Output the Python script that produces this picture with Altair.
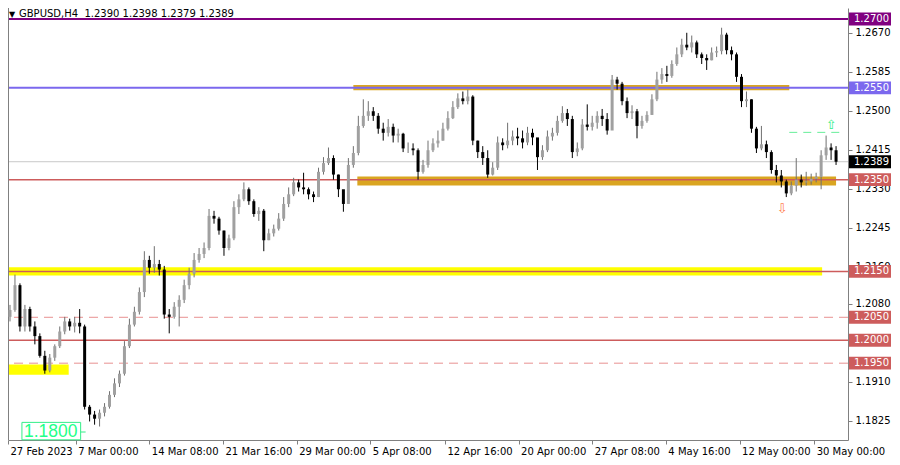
import altair as alt
import pandas as pd

# ---------------- data ----------------
open_first = 1.2051
close = [1.2066, 1.2120, 1.2030, 1.2068, 1.2030, 1.2009, 1.1966, 1.1934, 1.1962, 1.1987,
         1.2019, 1.2041, 1.2030, 1.2038, 1.2030, 1.1855, 1.1838, 1.1829, 1.1842, 1.1855,
         1.1881, 1.1906, 1.1927, 1.1987, 1.2034, 1.2062, 1.2105, 1.2175, 1.2158, 1.2166,
         1.2154, 1.2056, 1.2051, 1.2073, 1.2088, 1.2120, 1.2145, 1.2175, 1.2188, 1.2201,
         1.2271, 1.2265, 1.2239, 1.2201, 1.2222, 1.2290, 1.2307, 1.2329, 1.2303, 1.2275,
         1.2282, 1.2218, 1.2233, 1.2243, 1.2265, 1.2297, 1.2318, 1.2344, 1.2333, 1.2329,
         1.2318, 1.2312, 1.2367, 1.2386, 1.2397, 1.2361, 1.2329, 1.2297, 1.2382, 1.2408,
         1.2467, 1.2489, 1.2499, 1.2489, 1.2461, 1.2452, 1.2465, 1.2446, 1.2450, 1.2418,
         1.2418, 1.2414, 1.2367, 1.2382, 1.2414, 1.2429, 1.2435, 1.2461, 1.2484, 1.2508,
         1.2527, 1.2521, 1.2531, 1.2435, 1.2410, 1.2397, 1.2361, 1.2376, 1.2431, 1.2425,
         1.2435, 1.2444, 1.2440, 1.2431, 1.2452, 1.2442, 1.2399, 1.2414, 1.2444, 1.2452,
         1.2478, 1.2495, 1.2482, 1.2410, 1.2418, 1.2470, 1.2465, 1.2474, 1.2489, 1.2482,
         1.2457, 1.2568, 1.2559, 1.2521, 1.2495, 1.2499, 1.2467, 1.2478, 1.2491, 1.2525,
         1.2568, 1.2580, 1.2576, 1.2602, 1.2623, 1.2644, 1.2638, 1.2649, 1.2623, 1.2615,
         1.2610, 1.2627, 1.2630, 1.2666, 1.2632, 1.2623, 1.2574, 1.2521, 1.2525, 1.2461,
         1.2418, 1.2427, 1.2410, 1.2371, 1.2359, 1.2346, 1.2320, 1.2337, 1.2350, 1.2344,
         1.2346, 1.2352, 1.2356, 1.2403, 1.2420, 1.2414, 1.2389]
high = [1.2077, 1.2143, 1.2124, 1.2077, 1.2073, 1.2041, 1.2015, 1.1977, 1.1970, 1.1991,
        1.2030, 1.2051, 1.2047, 1.2051, 1.2068, 1.2034, 1.1859, 1.1846, 1.1849, 1.1863,
        1.1889, 1.1917, 1.1934, 1.1998, 1.2047, 1.2073, 1.2115, 1.2194, 1.2184, 1.2205,
        1.2175, 1.2162, 1.2068, 1.2083, 1.2098, 1.2132, 1.2158, 1.2190, 1.2201, 1.2213,
        1.2286, 1.2282, 1.2269, 1.2239, 1.2230, 1.2303, 1.2318, 1.2344, 1.2333, 1.2307,
        1.2290, 1.2286, 1.2243, 1.2252, 1.2277, 1.2312, 1.2333, 1.2354, 1.2350, 1.2365,
        1.2333, 1.2324, 1.2376, 1.2399, 1.2420, 1.2403, 1.2361, 1.2324, 1.2397, 1.2423,
        1.2489, 1.2525, 1.2521, 1.2508, 1.2495, 1.2474, 1.2482, 1.2472, 1.2461, 1.2452,
        1.2431, 1.2429, 1.2418, 1.2393, 1.2435, 1.2440, 1.2457, 1.2474, 1.2499, 1.2521,
        1.2538, 1.2542, 1.2546, 1.2534, 1.2435, 1.2423, 1.2414, 1.2388, 1.2444, 1.2440,
        1.2474, 1.2457, 1.2463, 1.2457, 1.2465, 1.2461, 1.2440, 1.2425, 1.2457, 1.2463,
        1.2489, 1.2510, 1.2504, 1.2489, 1.2431, 1.2482, 1.2514, 1.2489, 1.2499, 1.2504,
        1.2495, 1.2578, 1.2574, 1.2563, 1.2529, 1.2512, 1.2504, 1.2489, 1.2499, 1.2536,
        1.2585, 1.2593, 1.2598, 1.2610, 1.2638, 1.2657, 1.2670, 1.2664, 1.2653, 1.2627,
        1.2623, 1.2638, 1.2640, 1.2681, 1.2670, 1.2640, 1.2627, 1.2580, 1.2542, 1.2525,
        1.2465, 1.2467, 1.2435, 1.2414, 1.2382, 1.2371, 1.2350, 1.2346, 1.2397, 1.2361,
        1.2367, 1.2363, 1.2365, 1.2414, 1.2446, 1.2429, 1.2423]
low = [1.2041, 1.2062, 1.2019, 1.2019, 1.2019, 1.1991, 1.1962, 1.1927, 1.1930, 1.1955,
       1.1983, 1.2013, 1.2021, 1.2017, 1.2015, 1.1849, 1.1823, 1.1816, 1.1812, 1.1834,
       1.1851, 1.1876, 1.1898, 1.1923, 1.1983, 1.2030, 1.2056, 1.2094, 1.2145, 1.2147,
       1.2141, 1.2047, 1.2015, 1.2047, 1.2030, 1.2081, 1.2111, 1.2137, 1.2169, 1.2179,
       1.2196, 1.2254, 1.2230, 1.2184, 1.2196, 1.2218, 1.2275, 1.2303, 1.2295, 1.2269,
       1.2260, 1.2194, 1.2218, 1.2226, 1.2239, 1.2260, 1.2290, 1.2314, 1.2324, 1.2318,
       1.2307, 1.2301, 1.2312, 1.2361, 1.2382, 1.2350, 1.2312, 1.2280, 1.2297, 1.2376,
       1.2403, 1.2463, 1.2478, 1.2478, 1.2450, 1.2435, 1.2444, 1.2431, 1.2431, 1.2410,
       1.2408, 1.2403, 1.2350, 1.2363, 1.2376, 1.2410, 1.2420, 1.2435, 1.2457, 1.2482,
       1.2504, 1.2514, 1.2514, 1.2425, 1.2397, 1.2382, 1.2354, 1.2359, 1.2371, 1.2414,
       1.2418, 1.2425, 1.2425, 1.2418, 1.2425, 1.2425, 1.2371, 1.2393, 1.2410, 1.2435,
       1.2446, 1.2474, 1.2467, 1.2397, 1.2401, 1.2414, 1.2457, 1.2457, 1.2461, 1.2467,
       1.2448, 1.2461, 1.2546, 1.2512, 1.2484, 1.2482, 1.2440, 1.2461, 1.2474, 1.2491,
       1.2521, 1.2559, 1.2563, 1.2572, 1.2598, 1.2617, 1.2632, 1.2627, 1.2615, 1.2602,
       1.2589, 1.2610, 1.2617, 1.2623, 1.2623, 1.2610, 1.2563, 1.2508, 1.2508, 1.2452,
       1.2408, 1.2414, 1.2397, 1.2363, 1.2344, 1.2333, 1.2312, 1.2316, 1.2324, 1.2333,
       1.2337, 1.2339, 1.2344, 1.2329, 1.2393, 1.2393, 1.2382]

y_ticks = [1.1825, 1.1910, 1.2080, 1.2160, 1.2245, 1.2330, 1.2415, 1.2500, 1.2585, 1.2670]
x_tick_pos = [-0.4, 13.2, 28, 42.8, 57.6, 72.4, 87.4, 102.2, 117, 131.8, 146.6, 161.6]
x_tick_labels = ["27 Feb 2023", "7 Mar 00:00", "14 Mar 08:00", "21 Mar 16:00", "29 Mar 00:00",
                 "5 Apr 08:00", "12 Apr 16:00", "20 Apr 00:00", "27 Apr 08:00", "4 May 16:00",
                 "12 May 00:00", "30 May 00:00"]

solid_prices = [1.2700, 1.2550, 1.2389, 1.2350, 1.2150, 1.2000]
solid_colors = ["#800080", "#7B68EE", "#C8C8C8", "#CD5C5C", "#CD5C5C", "#CD5C5C"]
solid_widths = [2, 2, 1, 1.5, 1.5, 1.5]
dashed_prices = [1.2050, 1.1950]

box_prices = [1.2700, 1.2550, 1.2389, 1.2350, 1.2150, 1.2050, 1.2000, 1.1950]
box_colors = ["#800080", "#7B68EE", "#000000", "#CD5C5C", "#CD5C5C", "#CD5C5C", "#CD5C5C", "#CD5C5C"]

zone_x1 = [69, 69.8, -0.4, -0.4]
zone_x2 = [156.6, 166, 163.2, 11.8]
zone_lo = [1.2545, 1.2337, 1.2141, 1.1925]
zone_hi = [1.2556, 1.2357, 1.2159, 1.1947]
zone_colors = ["#DAA520", "#DAA520", "#FFFF00", "#FFFF00"]

header = "GBPUSD,H4\u00a0\u00a01.2390 1.2398 1.2379 1.2389"

# ---------------- tables ----------------
opens = [open_first] + close[:-1]
candles = pd.DataFrame({"i": list(range(len(close))), "open": opens, "close": close,
                        "high": high, "low": low})
solid = pd.DataFrame({"price": solid_prices, "color": solid_colors, "w": solid_widths})
dashed = pd.DataFrame({"price": dashed_prices})
boxes = pd.DataFrame({"price": box_prices, "color": box_colors,
                      "label": [f"{p:.4f}" for p in box_prices]})
zones = pd.DataFrame({"x1": zone_x1, "x2": zone_x2, "lo": zone_lo, "hi": zone_hi, "color": zone_colors})

W, H = 840, 432
FONT = "DejaVu Sans"
xsc = alt.Scale(domain=[-0.4, 168.4], nice=False, zero=False, padding=0)
ysc = alt.Scale(domain=[1.17826, 1.27240], nice=False, zero=False, padding=0)

label_expr = ""
for v, t in zip(x_tick_pos, x_tick_labels):
    label_expr += f"abs(datum.value - ({v})) < 0.5 ? '{t}' : "
label_expr += "''"

xax = alt.Axis(values=x_tick_pos, labelExpr=label_expr, title=None, orient="bottom",
               labelAlign="left", labelOffset=2, labelFlush=False, labelOverlap=False,
               tickSize=4, tickColor="#808080", domainColor="#808080", grid=False,
               labelFont=FONT, labelFontSize=10, labelColor="#000000", labelPadding=2)
yax = alt.Axis(values=y_ticks, format=".4f", title=None, orient="right", labelAlign="left",
               labelOverlap=False, labelFlush=False, tickSize=4, tickColor="#808080",
               domainColor="#808080", grid=False, labelFont=FONT, labelFontSize=10,
               labelColor="#000000", labelPadding=3)


def X(f):
    return alt.X(f, type="quantitative", scale=xsc, axis=xax)


def Y(f):
    return alt.Y(f, type="quantitative", scale=ysc, axis=yax)


base = alt.Chart(candles)

zone_layer = alt.Chart(zones).mark_rect().encode(
    x=X("x1"), x2="x2", y=Y("lo"), y2="hi", color=alt.Color("color:N", scale=None))

solid_layer = alt.Chart(solid).mark_rule().encode(
    y=Y("price"), color=alt.Color("color:N", scale=None),
    strokeWidth=alt.StrokeWidth("w:Q", scale=None))

dashed_layer = alt.Chart(dashed).mark_rule(color="#E89090", strokeWidth=1, strokeDash=[9, 6]).encode(
    y=Y("price"))

frame_left = alt.Chart(dashed).mark_rule(color="#808080", strokeWidth=1).encode(x=alt.value(0.5))

up = "datum.close >= datum.open"
wicks = base.mark_rule(strokeWidth=1).encode(
    x=X("i"), y=Y("low"), y2="high",
    color=alt.condition(up, alt.value("#707070"), alt.value("#000000")))
bodies = base.mark_bar(size=3).encode(
    x=X("i"), y=Y("open"), y2="close",
    color=alt.condition(up, alt.value("#a0a0a0"), alt.value("#000000")))

# green target line, arrows and the 1.1800 note
green_line = alt.Chart(pd.DataFrame({"a": [156.6], "b": [167.4], "p": [1.2453]})).mark_rule(
    color="#66EE99", strokeWidth=1, strokeDash=[8, 6]).encode(x=X("a"), x2="b", y=Y("p"))
arrows = alt.Chart(pd.DataFrame({"i": [165.0, 155.2], "p": [1.2468, 1.2286], "t": ["\u21e7", "\u21e9"],
                                 "c": ["#33EE88", "#FF7F50"]})).mark_text(
    font=FONT, fontSize=13).encode(x=X("i"), y=Y("p"), text="t:N", color=alt.Color("c:N", scale=None))

note = pd.DataFrame({"a": [2.4], "b": [14.2], "lo": [1.1783], "hi": [1.1821], "p": [1.1800],
                     "t": ["1.1800"], "d1": [14.2], "d2": [15.2]})
note_box = alt.Chart(note).mark_rect(fillOpacity=0, stroke="#33EE88", strokeWidth=1).encode(
    x=X("a"), x2="b", y=Y("lo"), y2="hi")
note_dash = alt.Chart(note).mark_rule(color="#33EE88", strokeWidth=1).encode(
    x=X("d1"), x2="d2", y=Y("p"))
note_text = alt.Chart(note).mark_text(font="Liberation Sans", fontSize=17.5, align="left",
                                      baseline="middle", color="#22FF88", dx=2).encode(
    x=X("a"), y=Y("p"), text="t:N")

# price label boxes on the right
boxes_rect = alt.Chart(boxes).transform_calculate(
    lo="datum.price - 0.0014", hi="datum.price + 0.0014").mark_rect().encode(
    x=alt.value(841), x2=alt.value(883), y=Y("lo:Q"), y2="hi:Q",
    color=alt.Color("color:N", scale=None))
boxes_text = alt.Chart(boxes).mark_text(font=FONT, fontSize=10, align="left", baseline="middle",
                                        color="#FFFFFF").encode(
    x=alt.value(846), y=Y("price"), text="label:N")

head_df = pd.DataFrame({"t": [header], "m": ["\u25bc"]})
head_mark = alt.Chart(head_df).mark_text(font=FONT, fontSize=8, align="left", baseline="top",
                                         color="#000000").encode(
    x=alt.value(1), y=alt.value(3), text="m:N")
head_text = alt.Chart(head_df).mark_text(font=FONT, fontSize=10, align="left", baseline="top",
                                         color="#000000").encode(
    x=alt.value(11), y=alt.value(1), text="t:N")

chart = alt.layer(
    zone_layer, solid_layer, dashed_layer, frame_left, wicks, bodies,
    green_line, arrows, note_box, note_dash, note_text, boxes_rect, boxes_text,
    head_mark, head_text
).properties(
    width=W, height=H, background="#FFFFFF",
    autosize=alt.AutoSizeParams(type="none"),
    padding={"left": 0, "top": 0, "right": 44, "bottom": 17},
).configure_view(stroke=None)

chart.save("out.html", embed_options={"renderer": "svg", "actions": False})
